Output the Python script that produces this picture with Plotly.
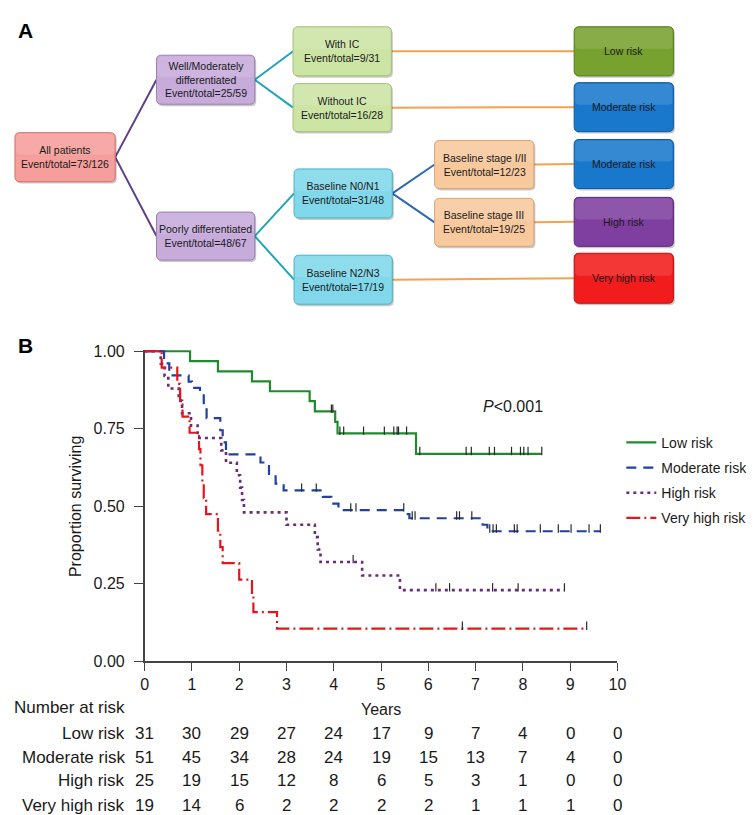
import plotly.graph_objects as go

W, H = 755, 815

# ---------------- Panel A: decision tree ----------------
node_labels = {
    "all": "All patients<br>Event/total=73/126",
    "well": "Well/Moderately<br>differentiated<br>Event/total=25/59",
    "poor": "Poorly differentiated<br>Event/total=48/67",
    "with_ic": "With IC<br>Event/total=9/31",
    "without_ic": "Without IC<br>Event/total=16/28",
    "n01": "Baseline N0/N1<br>Event/total=31/48",
    "n23": "Baseline N2/N3<br>Event/total=17/19",
    "st12": "Baseline stage I/II<br>Event/total=12/23",
    "st3": "Baseline stage III<br>Event/total=19/25",
    "low": "Low risk",
    "mod1": "Moderate risk",
    "mod2": "Moderate risk",
    "high": "High risk",
    "vhigh": "Very high risk",
}
tree_edges = [
    ("all", "well"), ("all", "poor"),
    ("well", "with_ic"), ("well", "without_ic"),
    ("poor", "n01"), ("poor", "n23"),
    ("n01", "st12"), ("n01", "st3"),
    ("with_ic", "low"), ("without_ic", "mod1"),
    ("st12", "mod2"), ("st3", "high"), ("n23", "vhigh"),
]

# layout of the diagram (pixel boxes x0, y0, x1, y1) and styles
box_pos = {
    "all": (3, 120, 105, 170),
    "well": (147, 41, 247, 91),
    "poor": (147, 201, 247, 250),
    "with_ic": (286, 12, 386, 62),
    "without_ic": (286, 70, 386, 119),
    "n01": (287, 157, 387, 207),
    "n23": (287, 245, 387, 295),
    "st12": (430, 128, 531, 177),
    "st3": (430, 187, 531, 236),
    "low": (572, 12, 673, 62),
    "mod1": (572, 69, 673, 119),
    "mod2": (572, 127, 673, 177),
    "high": (572, 186, 673, 236),
    "vhigh": (572, 243, 673, 294),
}
box_style = {
    "all": ("#F59E9B", "#D27370"),
    "well": ("#C6ABDB", "#9C82B4"),
    "poor": ("#C6ABDB", "#9C82B4"),
    "with_ic": ("#CCE4A4", "#A2C27A"),
    "without_ic": ("#CCE4A4", "#A2C27A"),
    "n01": ("#80D8EA", "#4FB2C6"),
    "n23": ("#80D8EA", "#4FB2C6"),
    "st12": ("#F9C99E", "#DBA677"),
    "st3": ("#F9C99E", "#DBA677"),
    "low": ("#78A22F", "#557C1D"),
    "mod1": ("#1A78CC", "#0F59A0"),
    "mod2": ("#1A78CC", "#0F59A0"),
    "high": ("#7F3FA0", "#5B2A7C"),
    "vhigh": ("#F21C1C", "#BD1010"),
}
edge_color = {"all": "#5F3F8A", "well": "#1FA5B6", "poor": "#1FA5B6", "n01": "#2C69B2"}
ORANGE = "#F5A24F"
RISK_NODES = ("low", "mod1", "mod2", "high", "vhigh")


def px(x):
    return x / W


def py(y):
    return 1 - y / H


def rrect(x0, y0, x1, y1, r=5):
    pts = [
        f"M {px(x0 + r)} {py(y0)}",
        f"L {px(x1 - r)} {py(y0)}",
        f"Q {px(x1)} {py(y0)} {px(x1)} {py(y0 + r)}",
        f"L {px(x1)} {py(y1 - r)}",
        f"Q {px(x1)} {py(y1)} {px(x1 - r)} {py(y1)}",
        f"L {px(x0 + r)} {py(y1)}",
        f"Q {px(x0)} {py(y1)} {px(x0)} {py(y1 - r)}",
        f"L {px(x0)} {py(y0 + r)}",
        f"Q {px(x0)} {py(y0)} {px(x0 + r)} {py(y0)}",
        "Z",
    ]
    return " ".join(pts)


shapes = []
annotations = []

for a, b in tree_edges:
    ax0, ay0, ax1, ay1 = box_pos[a]
    bx0, by0, bx1, by1 = box_pos[b]
    col = ORANGE if b in RISK_NODES else edge_color[a]
    shapes.append(dict(type="line", xref="paper", yref="paper",
                       x0=px(ax1), y0=py((ay0 + ay1) / 2), x1=px(bx0), y1=py((by0 + by1) / 2),
                       line=dict(color=col, width=2)))

for k, (x0, y0, x1, y1) in box_pos.items():
    fill, edge = box_style[k]
    shapes.append(dict(type="path", xref="paper", yref="paper",
                       path=rrect(x0 + 1.5, y0 + 2, x1 + 1.5, y1 + 2),
                       fillcolor="rgba(0,0,0,0.22)", line=dict(width=0)))
    shapes.append(dict(type="path", xref="paper", yref="paper",
                       path=rrect(x0, y0, x1, y1),
                       fillcolor=fill, line=dict(color=edge, width=1)))
    # light top sheen to imitate the gradient
    shapes.append(dict(type="path", xref="paper", yref="paper",
                       path=rrect(x0 + 1, y0 + 1, x1 - 1, y0 + (y1 - y0) * 0.45, r=4),
                       fillcolor="rgba(255,255,255,0.12)", line=dict(width=0)))
    annotations.append(dict(xref="paper", yref="paper", x=px((x0 + x1) / 2), y=py((y0 + y1) / 2),
                            text=node_labels[k], showarrow=False,
                            font=dict(family="Liberation Sans, Arial", size=10.5, color="#1a1a1a"),
                            align="center", xanchor="center", yanchor="middle"))

# ---------------- Panel B: Kaplan-Meier ----------------
groups = ["Low risk", "Moderate risk", "High risk", "Very high risk"]

low_times = [0, 0.96, 1.55, 2.27, 2.65, 3.49, 3.60, 4.03, 4.08, 5.74]
low_surv = [1.0, 0.968, 0.935, 0.903, 0.871, 0.839, 0.806, 0.772, 0.735, 0.669]
low_end = 8.40
low_cens = [3.95, 3.98, 4.13, 4.21, 4.63, 5.07, 5.27, 5.34, 5.37, 5.54, 5.82,
            6.80, 6.91, 7.29, 7.40, 7.76, 7.95, 8.02, 8.11, 8.40]

mod_times = [0, 0.41, 0.52, 0.93, 1.00, 1.17, 1.25, 1.31, 1.60, 1.65, 1.72, 2.45, 2.63,
             2.77, 2.94, 3.77, 3.95, 4.10, 5.52, 5.60, 7.15, 7.25]
mod_surv = [1.0, 0.961, 0.922, 0.902, 0.882, 0.863, 0.824, 0.784, 0.745, 0.706, 0.667, 0.641,
            0.604, 0.573, 0.551, 0.530, 0.508, 0.487, 0.474, 0.461, 0.440, 0.419]
mod_end = 9.64
mod_cens = [3.32, 3.63, 4.36, 4.47, 5.48, 5.66, 5.72, 6.60, 6.66, 6.92, 7.30, 7.37, 7.44,
            7.82, 7.88, 8.37, 8.75, 9.02, 9.40, 9.64]

high_times = [0, 0.34, 0.42, 0.50, 0.72, 0.79, 0.98, 1.12, 1.62, 1.72, 1.95, 2.02, 2.06,
              2.10, 3.00, 3.60, 3.66, 3.72, 4.60, 5.40]
high_surv = [1.0, 0.96, 0.92, 0.88, 0.84, 0.80, 0.76, 0.72, 0.68, 0.64, 0.60, 0.56, 0.52,
             0.48, 0.44, 0.40, 0.36, 0.32, 0.276, 0.229]
high_end = 8.88
high_cens = [4.41, 6.16, 6.45, 7.36, 7.90, 8.88]

vhigh_times = [0, 0.36, 0.69, 0.75, 0.80, 0.95, 1.15, 1.18, 1.22, 1.25, 1.30, 1.55, 1.60,
               1.65, 2.00, 2.27, 2.30, 2.80]
vhigh_surv = [1.0, 0.947, 0.895, 0.842, 0.789, 0.737, 0.684, 0.632, 0.579, 0.526, 0.474,
              0.421, 0.368, 0.316, 0.263, 0.211, 0.158, 0.105]
vhigh_end = 9.35
vhigh_cens = [6.72, 9.35]

risk_years = [0, 1, 2, 3, 4, 5, 6, 7, 8, 9, 10]
risk_low = [31, 30, 29, 27, 24, 17, 9, 7, 4, 0, 0]
risk_mod = [51, 45, 34, 28, 24, 19, 15, 13, 7, 4, 0]
risk_high = [25, 19, 15, 12, 8, 6, 5, 3, 1, 0, 0]
risk_vhigh = [19, 14, 6, 2, 2, 2, 2, 1, 1, 1, 0]

series = [
    (low_times, low_surv, low_end, low_cens, risk_low, "#1E8C2C", "solid", 2.2),
    (mod_times, mod_surv, mod_end, mod_cens, risk_mod, "#2140A3", "10px,7px", 2.2),
    (high_times, high_surv, high_end, high_cens, risk_high, "#6B2A7D", "3px,4px", 2.6),
    (vhigh_times, vhigh_surv, vhigh_end, vhigh_cens, risk_vhigh, "#E8141C", "14px,4px,2px,4px", 2.2),
]


def surv_at(times, surv, t):
    s = surv[0]
    for ti, si in zip(times, surv):
        if ti <= t:
            s = si
    return s


TICK_LIFT = 0.009  # censor ticks sit on top of the curve

fig = go.Figure()
for name, (tt, ss, te, cc, rr, col, dash, lw) in zip(groups, series):
    fig.add_trace(go.Scatter(x=tt + [te], y=ss + [ss[-1]], mode="lines", line_shape="hv",
                             line=dict(color=col, dash=dash, width=lw), name=name,
                             legendgroup=name))
    fig.add_trace(go.Scatter(x=cc, y=[surv_at(tt, ss, c) + TICK_LIFT for c in cc], mode="markers",
                             marker=dict(symbol="line-ns", size=6, line=dict(color="#2a2a2a", width=1.2)),
                             showlegend=False, legendgroup=name, hoverinfo="skip"))

BFONT = dict(family="Liberation Sans, Arial", size=16, color="#1a1a1a")
TFONT = dict(family="Liberation Sans, Arial", size=17, color="#1a1a1a")

# plot area (pixels): x 0..10 -> 135..616 ; y 0..1 -> 659..343
x_dom = [135 / W, 616 / W]
y_dom = [1 - 659 / H, 1 - (343 - 0.005 * 316) / H]

fig.update_xaxes(range=[0, 10], domain=x_dom, tickvals=risk_years, ticks="outside", ticklen=8,
                 tickwidth=1.3, tickcolor="#444", showline=True, linecolor="#444", linewidth=1.5,
                 showgrid=False, zeroline=False, tickfont=BFONT)
fig.update_yaxes(range=[0, 1.005], domain=y_dom, tickvals=[0, 0.25, 0.5, 0.75, 1.0],
                 ticktext=["0.00", "0.25", "0.50", "0.75", "1.00"], ticks="outside", ticklen=9,
                 tickwidth=1.3, tickcolor="#444", showline=True, linecolor="#444", linewidth=1.5,
                 showgrid=False, zeroline=False, tickfont=BFONT, ticklabelstandoff=6)

# risk table
row_y = [733, 757, 781, 806]
annotations.append(dict(xref="paper", yref="paper", x=px(117), y=py(706), text="Number at risk",
                        showarrow=False, xanchor="right", yanchor="middle", font=TFONT))
annotations.append(dict(xref="x", yref="paper", x=5, y=py(708), text="Years",
                        showarrow=False, xanchor="center", yanchor="middle", font=BFONT))
for name, ry, s in zip(groups, row_y, series):
    annotations.append(dict(xref="paper", yref="paper", x=px(117), y=py(ry), text=name,
                            showarrow=False, xanchor="right", yanchor="middle", font=TFONT))
    for yr, n in zip(risk_years, s[4]):
        annotations.append(dict(xref="x", yref="paper", x=yr, y=py(ry), text=str(n),
                                showarrow=False, xanchor="center", yanchor="middle", font=TFONT))

annotations.append(dict(xref="paper", yref="paper", x=px(64), y=py(501), text="Proportion surviving",
                        textangle=-90, showarrow=False, xanchor="center", yanchor="middle", font=BFONT))
annotations.append(dict(xref="paper", yref="paper", x=px(510), y=py(399), text="<i>P</i>&lt;0.001",
                        showarrow=False, xanchor="center", yanchor="middle", font=BFONT))
LBL = dict(family="Liberation Sans, Arial", size=21, color="#000")
annotations.append(dict(xref="paper", yref="paper", x=px(4), y=py(16), text="<b>A</b>",
                        showarrow=False, xanchor="left", yanchor="middle", font=LBL))
annotations.append(dict(xref="paper", yref="paper", x=px(4), y=py(337), text="<b>B</b>",
                        showarrow=False, xanchor="left", yanchor="middle", font=LBL))

fig.update_layout(
    width=W, height=H, margin=dict(l=0, r=0, t=0, b=0),
    paper_bgcolor="white", plot_bgcolor="rgba(0,0,0,0)",
    shapes=shapes, annotations=annotations,
    showlegend=True,
    legend=dict(x=px(620), y=py(420), xanchor="left", yanchor="top",
                font=dict(family="Liberation Sans, Arial", size=14, color="#1a1a1a"),
                bgcolor="rgba(0,0,0,0)", tracegroupgap=4, itemwidth=30),
    font=dict(family="Liberation Sans, Arial"),
)

fig.write_html("out.html")
